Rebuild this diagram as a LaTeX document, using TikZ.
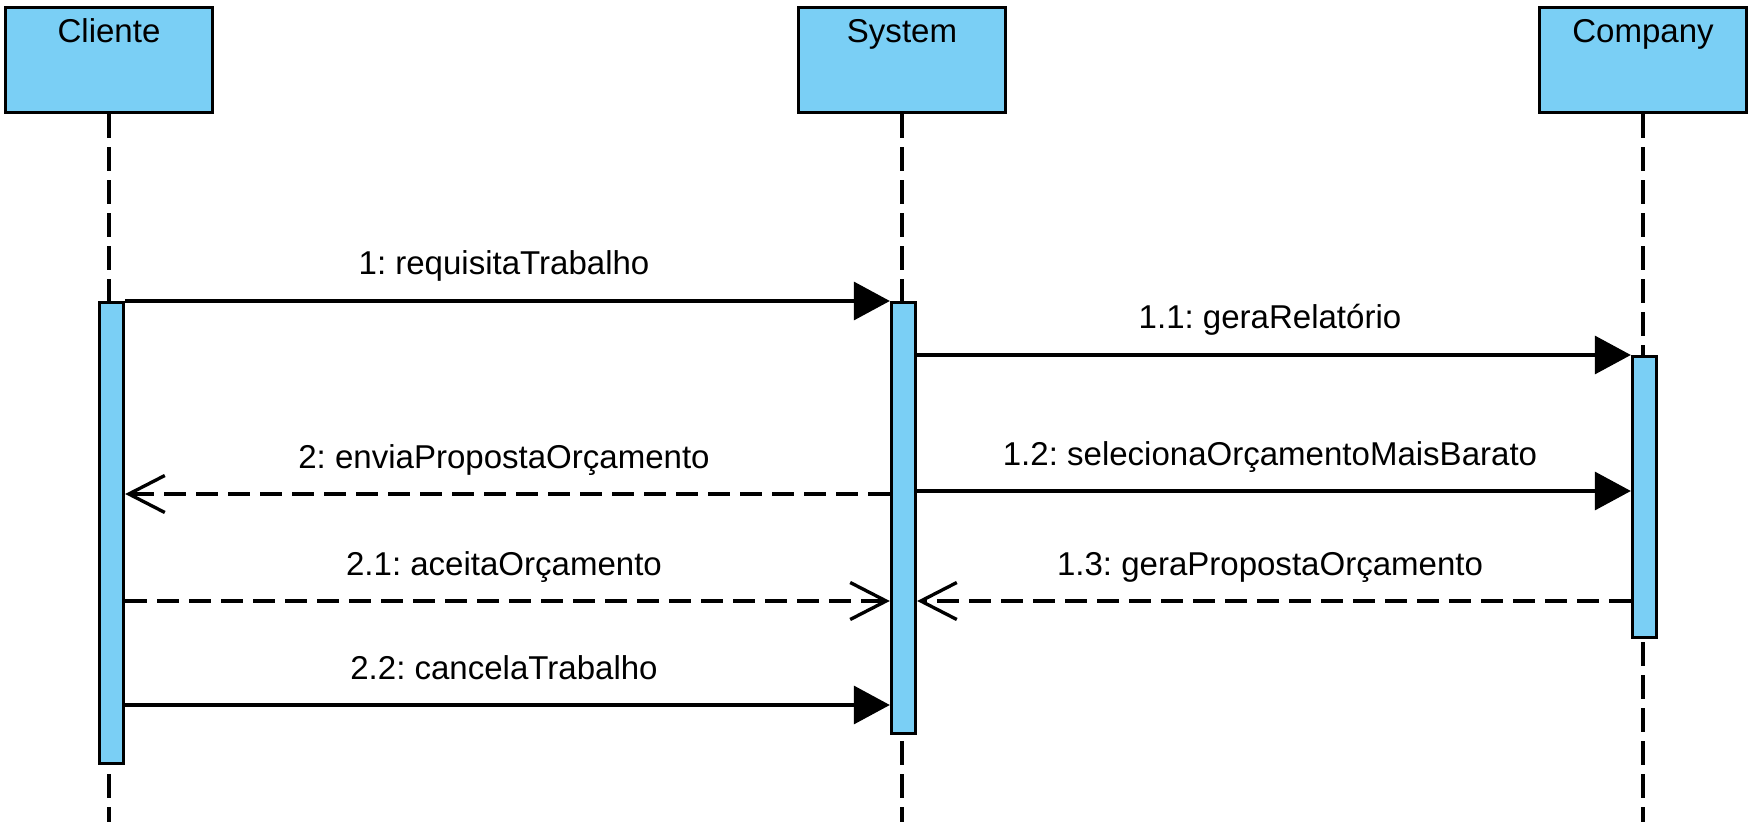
\documentclass[tikz,border=0pt]{standalone}
\usepackage{fontspec}
\setmainfont{Liberation Sans}
\usetikzlibrary{arrows.meta}
\frenchspacing

\definecolor{lifeblue}{RGB}{122,207,245}

\begin{document}
\begin{tikzpicture}[x=0.02cm, y=-0.02cm,
    font=\fontsize{18.8}{22}\selectfont,
    head/.style={draw, line width=1.9pt, fill=lifeblue, minimum width=4.14cm, minimum height=2.1cm, anchor=north, inner sep=0pt},
    bar/.style={draw, line width=1.9pt, fill=lifeblue, minimum width=0.48cm, inner sep=0pt, anchor=north},
    lifeline/.style={line width=1.9pt, dash pattern=on 0.48cm off 0.18cm},
    call/.style={line width=1.9pt, -{Triangle[length=0.72cm, width=0.76cm]}},
    reply/.style={line width=1.9pt, dash pattern=on 0.44cm off 0.2cm, -{Straight Barb[length=0.72cm, width=0.74cm]}},
    msg/.style={anchor=base}]
    \useasboundingbox (0,0) rectangle (1761,834);

    % Lifeline heads
    \node[head, label={[anchor=base, yshift=-0.74cm]north:Cliente}] (cliente) at (109,6) {};
    \node[head, label={[anchor=base, yshift=-0.74cm]north:System}] (system) at (902,6) {};
    \node[head, label={[anchor=base, yshift=-0.74cm]north:Company}] (company) at (1643,6) {};

    % Lifelines
    \coordinate (cend) at (108,822);
    \coordinate (send) at (900,822);
    \coordinate (kend) at (1641,822);
    \draw[lifeline] (cliente.south) -- (cliente.south |- cend);
    \draw[lifeline] (system.south) -- (system.south |- send);
    \draw[lifeline] (company.south) -- (company.south |- kend);

    % Activation bars
    \node[bar, minimum height=9.22cm] (cbar) at (111.5,301) {};
    \node[bar, minimum height=8.62cm] (sbar) at (903.5,301) {};
    \node[bar, minimum height=5.62cm] (kbar) at (1644.5,355) {};

    % Message heights
    \coordinate (m1) at (0,301);
    \coordinate (m11) at (0,355);
    \coordinate (m2) at (0,494);
    \coordinate (m12) at (0,491);
    \coordinate (m21) at (0,601);
    \coordinate (m22) at (0,705);

    % Messages
    \draw[call] (cbar.east |- m1) -- (sbar.west |- m1);
    \node[msg] (l1) at (504,275) {1: requisitaTrabalho};

    \draw[call] (sbar.east |- m11) -- (kbar.west |- m11);
    \node[msg] (l11) at (1270,329) {1.1: geraRelatório};

    \draw[reply] (sbar.west |- m2) -- (cbar.east |- m2);
    \node[msg] (l2) at (504,468) {2: enviaPropostaOrçamento};

    \draw[call] (sbar.east |- m12) -- (kbar.west |- m12);
    \node[msg] (l12) at (1270,465) {1.2: selecionaOrçamentoMaisBarato};

    \draw[reply] (cbar.east |- m21) -- (sbar.west |- m21);
    \node[msg] (l21) at (504,575) {2.1: aceitaOrçamento};

    \draw[reply] (kbar.west |- m21) -- (sbar.east |- m21);
    \node[msg] (l13) at (1270,575) {1.3: geraPropostaOrçamento};

    \draw[call] (cbar.east |- m22) -- (sbar.west |- m22);
    \node[msg] (l22) at (504,679) {2.2: cancelaTrabalho};
\end{tikzpicture}
\end{document}
